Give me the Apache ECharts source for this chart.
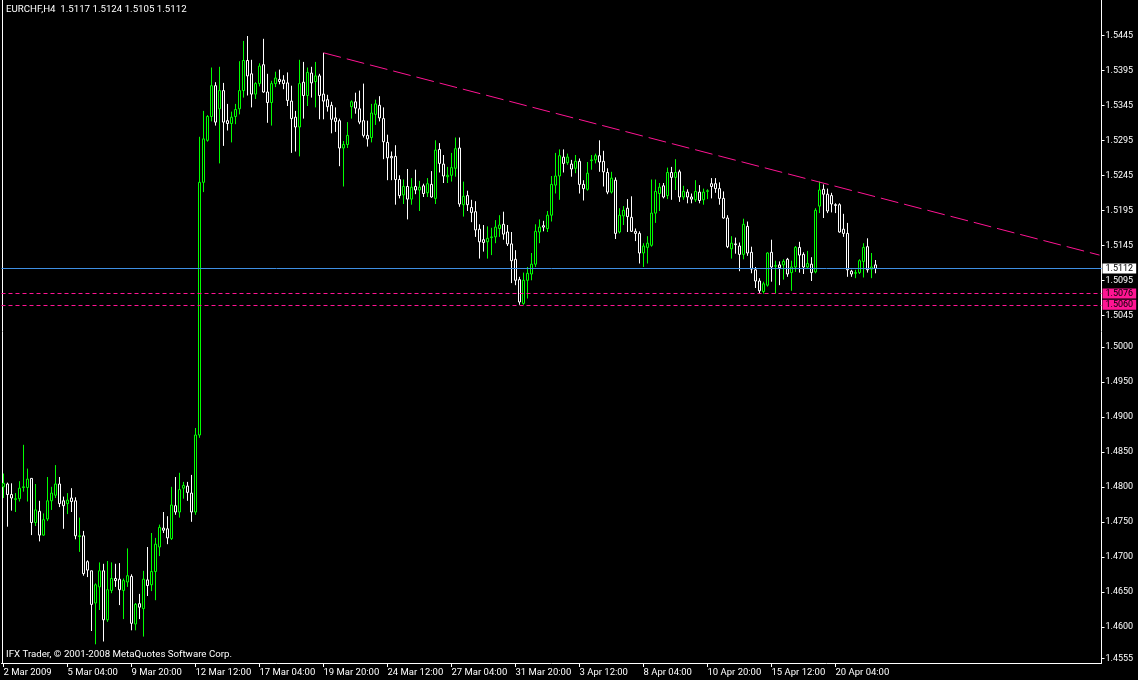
<!DOCTYPE html>
<html>
<head>
<meta charset="utf-8">
<script src="https://cdn.jsdelivr.net/npm/echarts@6/dist/echarts.min.js"></script>
<style>
  html, body { margin: 0; padding: 0; background: #000; }
  #chart { width: 1138px; height: 680px; }
</style>
</head>
<body>
<div id="chart"></div>
<script>
// EURCHF H4 candles, 2 Mar 2009 12:00 .. 21 Apr 2009 20:00, rows are [open, high, low, close]
const ohlc = [
  [1.4800,1.4819,1.4784,1.4805],[1.4804,1.4806,1.4743,1.4789],[1.4789,1.4805,1.4766,1.4784],[1.4782,1.4791,1.4764,1.4783],
  [1.4783,1.4808,1.4779,1.4798],[1.4799,1.4860,1.4793,1.4800],[1.4799,1.4826,1.4779,1.4811],[1.4812,1.4812,1.4731,1.4749],
  [1.4749,1.4804,1.4744,1.4767],[1.4765,1.4780,1.4722,1.4731],[1.4731,1.4762,1.4730,1.4753],[1.4754,1.4814,1.4751,1.4780],
  [1.4780,1.4800,1.4767,1.4791],[1.4788,1.4831,1.4784,1.4804],[1.4804,1.4814,1.4771,1.4776],[1.4780,1.4786,1.4740,1.4773],
  [1.4776,1.4791,1.4761,1.4781],[1.4784,1.4798,1.4764,1.4779],[1.4780,1.4785,1.4725,1.4730],[1.4729,1.4756,1.4707,1.4730],
  [1.4730,1.4737,1.4673,1.4676],[1.4693,1.4695,1.4671,1.4681],[1.4680,1.4680,1.4594,1.4632],[1.4634,1.4662,1.4575,1.4660],
  [1.4657,1.4692,1.4624,1.4680],[1.4680,1.4690,1.4579,1.4610],[1.4610,1.4694,1.4607,1.4653],[1.4652,1.4692,1.4648,1.4669],
  [1.4669,1.4690,1.4657,1.4666],[1.4668,1.4691,1.4631,1.4653],[1.4652,1.4669,1.4611,1.4666],[1.4664,1.4712,1.4657,1.4673],
  [1.4672,1.4675,1.4595,1.4605],[1.4604,1.4634,1.4595,1.4632],[1.4633,1.4647,1.4611,1.4628],[1.4626,1.4680,1.4586,1.4668],
  [1.4667,1.4714,1.4644,1.4659],[1.4660,1.4734,1.4651,1.4679],[1.4679,1.4727,1.4638,1.4718],[1.4714,1.4746,1.4701,1.4742],
  [1.4741,1.4764,1.4734,1.4738],[1.4740,1.4758,1.4718,1.4727],[1.4726,1.4800,1.4724,1.4774],[1.4773,1.4814,1.4760,1.4764],
  [1.4764,1.4820,1.4756,1.4796],[1.4798,1.4807,1.4783,1.4802],[1.4801,1.4807,1.4780,1.4792],[1.4791,1.4817,1.4750,1.4764],
  [1.4764,1.4884,1.4760,1.4874],[1.4874,1.5300,1.4870,1.5235],[1.5235,1.5337,1.5221,1.5297],[1.5295,1.5331,1.5293,1.5329],
  [1.5329,1.5399,1.5322,1.5373],[1.5373,1.5378,1.5316,1.5321],[1.5340,1.5400,1.5262,1.5366],[1.5366,1.5377,1.5287,1.5321],
  [1.5323,1.5347,1.5309,1.5319],[1.5319,1.5336,1.5292,1.5328],[1.5329,1.5347,1.5318,1.5339],[1.5340,1.5408,1.5332,1.5366],
  [1.5366,1.5437,1.5356,1.5409],[1.5409,1.5444,1.5359,1.5387],[1.5390,1.5410,1.5342,1.5361],[1.5361,1.5378,1.5354,1.5376],
  [1.5376,1.5405,1.5372,1.5401],[1.5403,1.5440,1.5363,1.5364],[1.5364,1.5390,1.5320,1.5349],[1.5349,1.5380,1.5316,1.5376],
  [1.5376,1.5393,1.5371,1.5384],[1.5382,1.5396,1.5375,1.5379],[1.5381,1.5388,1.5368,1.5376],[1.5377,1.5392,1.5344,1.5352],
  [1.5351,1.5373,1.5277,1.5326],[1.5328,1.5337,1.5279,1.5314],[1.5314,1.5410,1.5272,1.5376],[1.5378,1.5407,1.5326,1.5359],
  [1.5359,1.5399,1.5344,1.5392],[1.5391,1.5400,1.5356,1.5377],[1.5379,1.5407,1.5342,1.5387],[1.5387,1.5390,1.5325,1.5359],
  [1.5361,1.5420,1.5325,1.5351],[1.5353,1.5360,1.5336,1.5343],[1.5345,1.5350,1.5305,1.5325],[1.5327,1.5342,1.5307,1.5322],
  [1.5323,1.5326,1.5258,1.5284],[1.5284,1.5294,1.5229,1.5289],[1.5289,1.5321,1.5284,1.5302],[1.5343,1.5352,1.5326,1.5350],
  [1.5350,1.5363,1.5333,1.5341],[1.5340,1.5366,1.5318,1.5321],[1.5323,1.5376,1.5299,1.5302],[1.5302,1.5323,1.5286,1.5297],
  [1.5299,1.5347,1.5292,1.5334],[1.5332,1.5353,1.5317,1.5347],[1.5345,1.5358,1.5322,1.5327],[1.5326,1.5342,1.5268,1.5293],
  [1.5292,1.5303,1.5238,1.5270],[1.5272,1.5279,1.5238,1.5270],[1.5272,1.5288,1.5203,1.5239],[1.5239,1.5245,1.5212,1.5216],
  [1.5217,1.5239,1.5204,1.5229],[1.5229,1.5254,1.5182,1.5211],[1.5211,1.5241,1.5203,1.5228],[1.5229,1.5253,1.5218,1.5224],
  [1.5224,1.5237,1.5194,1.5228],[1.5230,1.5233,1.5214,1.5219],[1.5220,1.5241,1.5214,1.5233],[1.5232,1.5251,1.5213,1.5214],
  [1.5212,1.5295,1.5204,1.5281],[1.5282,1.5291,1.5249,1.5262],[1.5261,1.5274,1.5234,1.5244],[1.5243,1.5257,1.5234,1.5245],
  [1.5245,1.5277,1.5236,1.5256],[1.5255,1.5299,1.5243,1.5283],[1.5284,1.5299,1.5200,1.5204],[1.5203,1.5236,1.5186,1.5215],
  [1.5216,1.5223,1.5194,1.5203],[1.5199,1.5210,1.5178,1.5192],[1.5193,1.5208,1.5157,1.5167],[1.5168,1.5175,1.5126,1.5150],
  [1.5153,1.5174,1.5136,1.5149],[1.5150,1.5172,1.5126,1.5155],[1.5156,1.5170,1.5131,1.5157],[1.5157,1.5181,1.5148,1.5171],
  [1.5169,1.5188,1.5157,1.5174],[1.5175,1.5193,1.5153,1.5161],[1.5164,1.5174,1.5144,1.5147],[1.5147,1.5164,1.5091,1.5123],
  [1.5125,1.5138,1.5088,1.5095],[1.5096,1.5100,1.5060,1.5064],[1.5062,1.5106,1.5060,1.5095],[1.5095,1.5114,1.5069,1.5105],
  [1.5104,1.5134,1.5095,1.5118],[1.5118,1.5175,1.5114,1.5165],[1.5164,1.5182,1.5148,1.5171],[1.5173,1.5180,1.5165,1.5171],
  [1.5169,1.5194,1.5164,1.5188],[1.5188,1.5244,1.5179,1.5232],[1.5231,1.5277,1.5219,1.5244],[1.5244,1.5282,1.5210,1.5273],
  [1.5271,1.5282,1.5249,1.5262],[1.5263,1.5276,1.5260,1.5271],[1.5261,1.5267,1.5243,1.5254],[1.5255,1.5274,1.5248,1.5265],
  [1.5265,1.5269,1.5219,1.5232],[1.5232,1.5238,1.5209,1.5226],[1.5225,1.5264,1.5223,1.5248],[1.5266,1.5274,1.5253,1.5267],
  [1.5267,1.5276,1.5262,1.5273],[1.5273,1.5295,1.5250,1.5264],[1.5265,1.5280,1.5229,1.5250],[1.5249,1.5255,1.5218,1.5221],
  [1.5221,1.5250,1.5219,1.5241],[1.5238,1.5242,1.5154,1.5162],[1.5164,1.5198,1.5162,1.5188],[1.5187,1.5201,1.5174,1.5195],
  [1.5198,1.5211,1.5164,1.5186],[1.5185,1.5215,1.5164,1.5165],[1.5165,1.5169,1.5151,1.5162],[1.5162,1.5165,1.5119,1.5134],
  [1.5134,1.5148,1.5114,1.5144],[1.5142,1.5158,1.5119,1.5148],[1.5145,1.5239,1.5143,1.5191],[1.5191,1.5239,1.5177,1.5222],
  [1.5219,1.5234,1.5194,1.5228],[1.5230,1.5234,1.5212,1.5214],[1.5216,1.5256,1.5211,1.5249],[1.5249,1.5257,1.5210,1.5242],
  [1.5242,1.5268,1.5224,1.5249],[1.5250,1.5253,1.5207,1.5214],[1.5214,1.5230,1.5210,1.5222],[1.5221,1.5225,1.5205,1.5214],
  [1.5214,1.5219,1.5205,1.5211],[1.5210,1.5238,1.5207,1.5222],[1.5221,1.5231,1.5205,1.5209],[1.5210,1.5226,1.5203,1.5221],
  [1.5222,1.5225,1.5211,1.5223],[1.5233,1.5241,1.5212,1.5229],[1.5233,1.5241,1.5220,1.5226],[1.5226,1.5235,1.5203,1.5212],
  [1.5212,1.5222,1.5183,1.5184],[1.5184,1.5188,1.5141,1.5143],[1.5140,1.5158,1.5126,1.5148],[1.5147,1.5156,1.5133,1.5146],
  [1.5144,1.5149,1.5108,1.5132],[1.5132,1.5183,1.5125,1.5175],[1.5172,1.5179,1.5130,1.5134],[1.5135,1.5143,1.5105,1.5111],
  [1.5110,1.5114,1.5084,1.5094],[1.5094,1.5098,1.5076,1.5080],[1.5079,1.5093,1.5076,1.5090],[1.5088,1.5135,1.5086,1.5134],
  [1.5135,1.5153,1.5093,1.5114],[1.5115,1.5123,1.5076,1.5116],[1.5117,1.5122,1.5088,1.5113],[1.5117,1.5125,1.5096,1.5122],
  [1.5125,1.5127,1.5100,1.5104],[1.5106,1.5123,1.5080,1.5114],[1.5114,1.5144,1.5107,1.5142],[1.5142,1.5150,1.5106,1.5131],
  [1.5132,1.5135,1.5104,1.5114],[1.5114,1.5137,1.5111,1.5119],[1.5118,1.5128,1.5094,1.5106],[1.5107,1.5198,1.5105,1.5195],
  [1.5201,1.5236,1.5191,1.5224],[1.5225,1.5232,1.5184,1.5218],[1.5218,1.5226,1.5191,1.5194],[1.5216,1.5220,1.5192,1.5204],
  [1.5203,1.5205,1.5191,1.5202],[1.5203,1.5205,1.5163,1.5164],[1.5168,1.5190,1.5157,1.5162],[1.5162,1.5177,1.5100,1.5110],
  [1.5108,1.5110,1.5100,1.5104],[1.5105,1.5110,1.5098,1.5106],[1.5106,1.5125,1.5104,1.5123],[1.5122,1.5148,1.5099,1.5142],
  [1.5143,1.5155,1.5106,1.5110],[1.5111,1.5134,1.5098,1.5114],[1.5117,1.5124,1.5105,1.5112]
];

// time scale labels, one every 16 bars
const timeLabels = ['2 Mar 2009', '5 Mar 04:00', '9 Mar 20:00', '12 Mar 12:00', '17 Mar 04:00', '19 Mar 20:00',
  '24 Mar 12:00', '27 Mar 04:00', '31 Mar 20:00', '3 Apr 12:00', '8 Apr 04:00', '10 Apr 20:00',
  '15 Apr 12:00', '20 Apr 04:00'];
const labelStep = 16;
const barSlots = 275;   // visible bar slots including the empty space on the right

// price scale
const priceTicks = [1.5445, 1.5395, 1.5345, 1.5295, 1.5245, 1.5195, 1.5145, 1.5095, 1.5045,
  1.5000, 1.4950, 1.4900, 1.4850, 1.4800, 1.4750, 1.4700, 1.4650, 1.4600, 1.4555];
const priceRange = [1.454829, 1.549543];

// header and footer
const symbolInfo = 'EURCHF,H4  1.5117 1.5124 1.5105 1.5112';
const copyright = 'IFX Trader, \u00a9 2001-2008 MetaQuotes Software Corp.';

// bid line, support levels and the falling resistance line [bar index, price]
const bidPrice = 1.5112;
const supportLevels = [1.5076, 1.5060];
const resistanceLine = [[80, 1.5420], [274, 1.5131]];

const FONT = 'Roboto';
const PINK = '#ff1493';

const slots = Array.from({ length: barSlots }, (_, i) =>
  (i % labelStep === 0 && timeLabels[i / labelStep]) ? timeLabels[i / labelStep] : '');
const showSlot = (i, v) => v !== '';

const chart = echarts.init(document.getElementById('chart'), null, { renderer: 'canvas' });

// price tag drawn on the right scale at the end of a horizontal level
const priceTag = (p, bg) => ({
  show: true, position: 'end', distance: 1, formatter: p.toFixed(4),
  backgroundColor: bg, color: '#000000', padding: [0, 3, 0, 3], lineHeight: 10,
  fontFamily: FONT, fontSize: 9
});

const levelLines = [
  { yAxis: bidPrice, lineStyle: { color: '#3f8fe3', type: 'solid', width: 1 }, label: priceTag(bidPrice, '#ffffff') },
  ...supportLevels.map(p => ({ yAxis: p, lineStyle: { color: PINK, type: [4, 3], width: 1 }, label: priceTag(p, PINK) })),
  [
    { coord: resistanceLine[0], lineStyle: { color: PINK, type: [18, 6], width: 1 }, label: { show: false } },
    { coord: resistanceLine[1] }
  ]
];

const textStyle = { color: '#ffffff', fontFamily: FONT, fontSize: 9.7, fontWeight: 'normal' };

chart.setOption({
  backgroundColor: '#000000',
  animation: false,
  title: [
    { text: symbolInfo, left: 6, top: 5, padding: 0, textStyle },
    { text: copyright, left: 6, top: 650, padding: 0, textStyle }
  ],
  grid: { left: 1.5, right: 36.5, top: 0, bottom: 17, containLabel: false },
  xAxis: {
    type: 'category',
    data: slots,
    boundaryGap: true,
    axisLine: { show: true, lineStyle: { color: '#ffffff', width: 1 } },
    axisTick: { show: true, alignWithLabel: true, interval: showSlot, length: 4, lineStyle: { color: '#ffffff' } },
    axisLabel: {
      show: true, interval: showSlot, align: 'left', margin: 5,
      color: '#ffffff', fontFamily: FONT, fontSize: 9.5
    },
    splitLine: { show: false }
  },
  yAxis: [
    {
      type: 'value',
      position: 'right',
      min: priceRange[0],
      max: priceRange[1],
      axisLine: { show: true, lineStyle: { color: '#ffffff', width: 1 } },
      axisTick: { show: true, customValues: priceTicks, length: 3, lineStyle: { color: '#ffffff' } },
      axisLabel: {
        show: true, customValues: priceTicks, margin: 4, hideOverlap: false,
        formatter: v => v.toFixed(4),
        color: '#ffffff', fontFamily: FONT, fontSize: 9
      },
      splitLine: { show: false }
    },
    {
      type: 'value',
      position: 'left',
      offset: -1,
      min: priceRange[0],
      max: priceRange[1],
      axisLine: { show: true, lineStyle: { color: '#ffffff', width: 1 } },
      axisTick: { show: false },
      axisLabel: { show: false },
      splitLine: { show: false }
    }
  ],
  series: [
    {
      name: 'EURCHF',
      type: 'candlestick',
      xAxisIndex: 0,
      yAxisIndex: 0,
      barWidth: 2,
      silent: true,
      z: 3,
      data: ohlc.map(([o, h, l, c]) => [o, c, l, h]),
      itemStyle: {
        color: '#000000',
        color0: '#000000',
        borderColor: '#00ff00',
        borderColor0: '#ffffff',
        borderWidth: 1
      }
    },
    {
      name: 'levels',
      type: 'line',
      xAxisIndex: 0,
      yAxisIndex: 0,
      data: [],
      silent: true,
      z: 4,
      markLine: {
        silent: true,
        symbol: 'none',
        precision: 4,
        animation: false,
        data: levelLines
      }
    }
  ]
});
</script>
</body>
</html>
